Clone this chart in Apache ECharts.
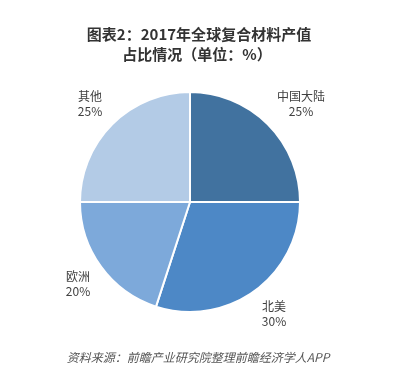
<!DOCTYPE html>
<html>
<head>
<meta charset="utf-8">
<script src="https://cdn.jsdelivr.net/npm/echarts@6/dist/echarts.min.js"></script>
<style>html,body{margin:0;padding:0;background:#fff;}#c{width:409px;height:380px;}</style>
</head>
<body>
<div id="c"></div>
<script>
var categories = ['中国大陆', '北美', '欧洲', '其他'];
var values = [25, 30, 20, 25];
var colors = ['#41729f', '#4d88c6', '#7da9da', '#b3cbe6'];
var titleLines = ['图表2：2017年全球复合材料产值', '占比情况（单位：%）'];
var sourceText = '资料来源：前瞻产业研究院整理前瞻经济学人APP';

var labelPos = [[301, 104], [274, 314], [78, 284], [90, 104]];

var chart = echarts.init(document.getElementById('c'), null, {renderer: 'canvas'});
chart.setOption({
  backgroundColor: '#ffffff',
  animation: false,
  graphic: [{
    type: 'text',
    x: 199,
    y: 34,
    style: {
      text: titleLines[0],
      fontFamily: 'Noto Sans CJK SC',
      fontSize: 15,
      fontWeight: 'bold',
      fill: '#333333',
      align: 'center',
      verticalAlign: 'middle'
    }
  }, {
    type: 'text',
    x: 197,
    y: 54,
    style: {
      text: titleLines[1],
      fontFamily: 'Noto Sans CJK SC',
      fontSize: 15,
      fontWeight: 'bold',
      fill: '#333333',
      align: 'center',
      verticalAlign: 'middle'
    }
  }, {
    type: 'text',
    x: 198,
    y: 357,
    style: {
      text: sourceText,
      fontFamily: 'Noto Sans CJK SC',
      fontSize: 12,
      fontStyle: 'italic',
      fill: '#555555',
      align: 'center',
      verticalAlign: 'middle'
    }
  }],
  series: [{
    type: 'pie',
    center: [190, 202],
    radius: 110,
    startAngle: 90,
    clockwise: true,
    data: categories.map(function (n, i) {
      return {name: n, value: values[i], itemStyle: {color: colors[i]}};
    }),
    itemStyle: {borderColor: '#ffffff', borderWidth: 2},
    label: {
      show: true,
      position: 'outside',
      formatter: function (p) { return p.name + '\n' + p.value + '%'; },
      fontFamily: 'Noto Sans CJK SC',
      fontSize: 12,
      lineHeight: 15,
      color: '#404040',
      align: 'center'
    },
    labelLine: {show: false},
    labelLayout: function (p) {
      var pos = labelPos[p.dataIndex];
      return {x: pos[0], y: pos[1], align: 'center', verticalAlign: 'middle'};
    },
    emphasis: {disabled: true}
  }]
});
</script>
</body>
</html>
